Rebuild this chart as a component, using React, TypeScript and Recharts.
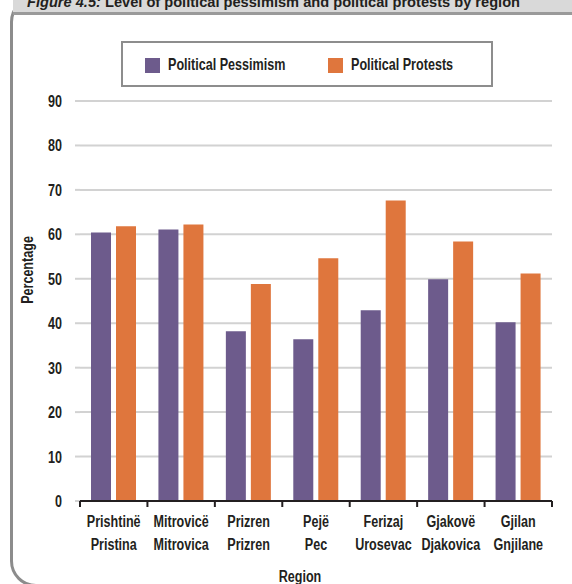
import { Bar, BarChart, CartesianGrid, XAxis, YAxis } from "recharts";

const regionsAlb = ["Prishtinë", "Mitrovicë", "Prizren", "Pejë", "Ferizaj", "Gjakovë", "Gjilan"];
const regionsSrb = ["Pristina", "Mitrovica", "Prizren", "Pec", "Urosevac", "Djakovica", "Gnjilane"];
const pessimism = [60.4, 61.1, 38.2, 36.4, 42.9, 49.9, 40.2];
const protests = [61.8, 62.2, 48.8, 54.6, 67.6, 58.4, 51.2];
const yTicks = [0, 10, 20, 30, 40, 50, 60, 70, 80, 90];

const PURPLE = "#6d5b8c";
const ORANGE = "#df763d";
const INK = "#231f20";
const FONT = "'Liberation Sans', Arial, sans-serif";
const FONT_SIZE = 17;
const SQUEEZE = 0.74;

const data = regionsAlb.map((r, i) => ({
  region: r,
  alt: regionsSrb[i],
  pessimism: pessimism[i],
  protests: protests[i],
}));

// narrow bold text, to stand in for the condensed face of the original
function Narrow({ x, y, anchor = "middle", children }: any) {
  return (
    <text
      transform={`translate(${x} ${y}) scale(${SQUEEZE} 1)`}
      textAnchor={anchor}
      fill={INK}
      fontSize={FONT_SIZE}
      fontWeight="bold"
      fontFamily={FONT}
    >
      {children}
    </text>
  );
}

function RegionTick(props: any) {
  const { x, y, payload, index } = props;
  const half = payload?.offset ?? 33.7;
  const axisY = y - 8;
  const last = index === regionsAlb.length - 1;
  return (
    <g>
      <line x1={x - half} x2={x - half} y1={axisY} y2={axisY + 6} stroke={INK} strokeWidth={2} />
      {last && <line x1={x + half} x2={x + half} y1={axisY} y2={axisY + 6} stroke={INK} strokeWidth={2} />}
      <Narrow x={x} y={y + 18}>{payload.value}</Narrow>
      <Narrow x={x} y={y + 41}>{data[index]?.alt}</Narrow>
    </g>
  );
}

function ValueTick(props: any) {
  const { x, y, payload } = props;
  return <Narrow x={x} y={y + 6} anchor="end">{payload.value}</Narrow>;
}

function LegendBox() {
  const item = (color: string, label: string, left: number) => (
    <div style={{ position: "absolute", left, top: 12, display: "flex", alignItems: "center", whiteSpace: "nowrap" }}>
      <div style={{ width: 15, height: 15, background: color }} />
      <span
        style={{
          marginLeft: 8,
          fontSize: FONT_SIZE,
          fontWeight: "bold",
          color: INK,
          fontFamily: FONT,
          display: "inline-block",
          transform: `scaleX(${SQUEEZE})`,
          transformOrigin: "left center",
        }}
      >
        {label}
      </span>
    </div>
  );
  return (
    <div
      style={{
        position: "absolute",
        left: 121,
        top: 41,
        width: 372,
        height: 46,
        boxSizing: "border-box",
        border: "2px solid #8d8d8d",
      }}
    >
      {item(PURPLE, "Political Pessimism", 22)}
      {item(ORANGE, "Political Protests", 205)}
    </div>
  );
}

export default function App() {
  return (
    <div style={{ position: "absolute", left: 0, top: 0, width: 572, height: 584, overflow: "hidden", background: "#fff" }}>
      {/* frame and clipped figure caption */}
      <div
        style={{
          position: "absolute",
          left: 10,
          top: -4,
          width: 640,
          height: 591,
          border: "3px solid #8c8c8c",
          borderRadius: 26,
          boxSizing: "border-box",
        }}
      />
      <div style={{ position: "absolute", left: 13, top: 0, width: 600, height: 12, background: "#d9d9d9", borderBottom: "3px solid #9a9a9a" }} />
      <svg width={572} height={584} style={{ position: "absolute", left: 0, top: 0 }}>
        <text x={27} y={6.5} fontSize={15} fontWeight="bold" fill={INK} fontFamily={FONT} textLength={493} lengthAdjust="spacingAndGlyphs">
          <tspan fontStyle="italic">Figure 4.5: </tspan>Level of political pessimism and political protests by region
        </text>
        <g transform="translate(32.5 270) rotate(-90)">
          <Narrow x={0} y={0}>Percentage</Narrow>
        </g>
        <Narrow x={300} y={582}>Region</Narrow>
      </svg>
      <LegendBox />
      <div style={{ position: "absolute", left: 0, top: 0 }}>
        <BarChart
          width={572}
          height={584}
          data={data}
          margin={{ top: 101, right: 20, bottom: 23, left: 20 }}
          barSize={20}
          barGap={5}
        >
          <CartesianGrid vertical={false} stroke="#d2d2d2" strokeWidth={2} />
          <XAxis
            dataKey="region"
            height={60}
            axisLine={{ stroke: INK, strokeWidth: 2 }}
            tickLine={{ stroke: "none" }}
            tickSize={6}
            tickMargin={2}
            interval={0}
            tick={<RegionTick />}
          />
          <YAxis
            width={60}
            domain={[0, 90]}
            ticks={yTicks}
            interval={0}
            axisLine={false}
            tickLine={{ stroke: "#d2d2d2", strokeWidth: 2 }}
            tickSize={5}
            tickMargin={13}
            tick={<ValueTick />}
          />
          <Bar dataKey="pessimism" name="Political Pessimism" fill={PURPLE} isAnimationActive={false} />
          <Bar dataKey="protests" name="Political Protests" fill={ORANGE} isAnimationActive={false} />
        </BarChart>
      </div>
    </div>
  );
}
